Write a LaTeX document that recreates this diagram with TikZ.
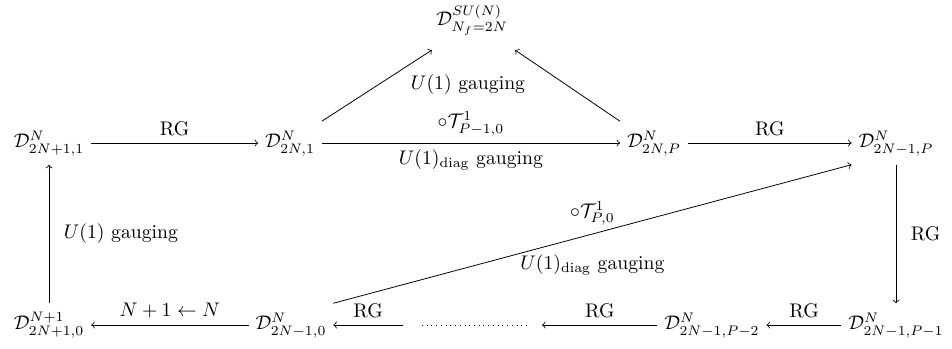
\documentclass[tikz,border=0pt]{standalone}
\usetikzlibrary{calc}
\begin{document}
\begin{tikzpicture}[x=0.5076pt,y=-0.5076pt,
  obj/.style={inner sep=3.33pt, text height=10pt, text depth=5pt},
  arr/.style={->, line width=0.4pt},
  lab/.style={inner sep=3.33pt},
  dotline/.style={dotted, line width=0.4pt}]
\useasboundingbox (0,0) rectangle (952,349);
% row 1
\node[obj] (A) at (49,143) {$\mathcal{D}^N_{2N+1,1}$};
\node[obj] (B) at (290,143) {$\mathcal{D}^N_{2N,1}$};
\node[obj] (C) at (654,143) {$\mathcal{D}^N_{2N,P}$};
\node[obj] (D) at (896,143) {$\mathcal{D}^N_{2N-1,P}$};
\node (T) at (472,20) {$\mathcal{D}^{SU(N)}_{N_f=2N}$};
\node[lab] (tl) at (468,85) {$U(1)$ gauging};
% row 2
\node[obj] (E) at (49,325) {$\mathcal{D}^{N+1}_{2N+1,0}$};
\node[obj] (F) at (291,325) {$\mathcal{D}^N_{2N-1,0}$};
\node[obj] (G) at (712,325) {$\mathcal{D}^N_{2N-1,P-2}$};
\node[obj] (H) at (896,325) {$\mathcal{D}^N_{2N-1,P-1}$};
\coordinate (e1) at (403,325);
\coordinate (d1) at (422,325);
\coordinate (d2) at (527,325);
\coordinate (e2) at (542,325);
% arrows row 1
\draw[arr] (A) -- node[lab, above] {RG} (B);
\draw[arr] (B) -- node[lab, above] {$\circ\mathcal{T}^1_{P-1,0}$}
                 node[lab, below] {$U(1)_{\mathrm{diag}}$ gauging} (C);
\draw[arr] (C) -- node[lab, above] {RG} (D);
\draw[arr] (B.north east) -- ($(T)+(-40,30)$);
\draw[arr] (C.north west) -- ($(T)+(43,30)$);
% verticals
\draw[arr] (D) -- node[lab, right=4pt] {RG} (H);
\draw[arr] (E) -- node[lab, right=4pt] {$U(1)$ gauging} (A);
% row 2
\draw[arr] (H) -- node[lab, above] {RG} (G);
\draw[arr] (G) -- node[lab, above] {RG} (e2);
\draw[dotline] (d1) -- (d2);
\draw[arr] (e1) -- node[lab, above] {RG} (F);
\draw[arr] (F) -- node[lab, above] {$N+1\leftarrow N$} (E);
% diagonal
\draw[arr] (F.north east) -- node[lab, pos=0.5, yshift=10.5pt] {$\circ\mathcal{T}^1_{P,0}$}
                  node[lab, pos=0.5, yshift=-15.5pt] {$U(1)_{\mathrm{diag}}$ gauging} (D.south west);
\end{tikzpicture}
\end{document}
